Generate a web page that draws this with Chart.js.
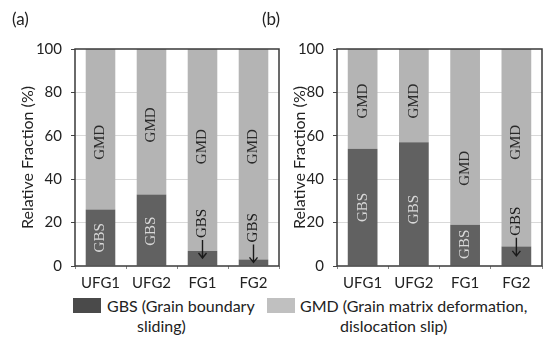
<!DOCTYPE html>
<html>
<head>
<meta charset="utf-8">
<script src="https://cdn.jsdelivr.net/npm/chart.js@4.4.0/dist/chart.umd.min.js"></script>
<style>
  body { margin: 0; background: #fff; width: 550px; height: 338px; position: relative; overflow: hidden; font-family: Lato, "Open Sans", sans-serif; color: #222; }
  .panel { position: absolute; top: 0; height: 295px; }
  #wrapA { left: 0; width: 290px; }
  #wrapB { left: 280px; width: 270px; }
  .tag { position: absolute; top: 8px; font-size: 17px; }
  .sw { position: absolute; top: 298px; width: 28px; height: 15px; }
  .lt { position: absolute; font-size: 16px; line-height: 20px; white-space: nowrap; }
</style>
</head>
<body>
<div class="panel" id="wrapA"><canvas id="chartA"></canvas></div>
<div class="panel" id="wrapB"><canvas id="chartB"></canvas></div>
<div class="tag" style="left:12px">(a)</div>
<div class="tag" style="left:262px">(b)</div>

<div class="sw" style="left:73px; background:#4a4a4a"></div>
<div class="lt" style="left:107px; top:296px">GBS (Grain boundary</div>
<div class="lt" style="left:137px; top:316px">sliding)</div>
<div class="sw" style="left:267px; background:#c0c0c0"></div>
<div class="lt" style="left:300px; top:296px">GMD (Grain matrix deformation,</div>
<div class="lt" style="left:340px; top:316px">dislocation slip)</div>

<script>
const categories = ['UFG1', 'UFG2', 'FG1', 'FG2'];
// (a)
const gbsA = [26, 33, 7, 3];
const gmdA = [74, 67, 93, 97];
// (b)
const gbsB = [54, 57, 19, 9];
const gmdB = [46, 43, 81, 91];
const yTicks = [0, 20, 40, 60, 80, 100];

// where the rotated words sit (in % units), and which GBS labels use an arrow
const gmdTextA = [57, 65, 55, 55];
const gbsTextA = [13, 16, 15, 13];
const arrowA = [false, false, true, true];
const gmdTextB = [76, 76, 45, 57];
const gbsTextB = [27, 26, 10, 16];
const arrowB = [false, false, false, true];

const sansFont = 'Lato, "Open Sans", sans-serif';
const serifFont = '"Liberation Serif", "DejaVu Serif", serif';

const barLabels = {
  id: 'barLabels',
  afterDatasetsDraw(chart, args, opts) {
    const ctx = chart.ctx;
    const xs = chart.scales.x, ys = chart.scales.y;
    ctx.save();
    ctx.font = '15px ' + serifFont;
    ctx.textBaseline = 'middle';
    categories.forEach((c, i) => {
      const x = xs.getPixelForValue(i);
      const draw = (txt, v, col, arrow) => {
        ctx.save();
        ctx.translate(x, ys.getPixelForValue(v));
        ctx.rotate(-Math.PI / 2);
        ctx.fillStyle = col;
        if (!arrow) {
          ctx.textAlign = 'center';
          ctx.fillText(txt, 0, 0);
        } else {
          // arrow pointing down at the thin GBS slice, then the word
          const w = ctx.measureText(txt).width;
          const len = 18;
          const start = -(len + 2 + w) / 2;
          ctx.strokeStyle = col;
          ctx.lineWidth = 1.4;
          ctx.beginPath();
          ctx.moveTo(start + len, 0);
          ctx.lineTo(start, 0);
          ctx.moveTo(start + 5, -4);
          ctx.lineTo(start, 0);
          ctx.lineTo(start + 5, 4);
          ctx.stroke();
          ctx.textAlign = 'left';
          ctx.fillText(txt, start + len + 2, 0);
        }
        ctx.restore();
      };
      draw('GMD', opts.gmdAt[i], '#2a2a2a', false);
      if (opts.arrow[i]) draw('GBS', opts.gbsAt[i], '#1a1a1a', true);
      else draw('GBS', opts.gbsAt[i], '#d8d8d8', false);
    });
    ctx.restore();
  }
};

const frame = {
  id: 'frame',
  afterDraw(chart) {
    const a = chart.chartArea, ctx = chart.ctx;
    ctx.save();
    ctx.strokeStyle = '#3a3a3a';
    ctx.lineWidth = 1.5;
    ctx.strokeRect(a.left, a.top, a.right - a.left, a.bottom - a.top);
    ctx.restore();
  }
};

function makeChart(id, gbs, gmd, padRight, yWidth, titlePad, gmdAt, gbsAt, arrow) {
  return new Chart(document.getElementById(id), {
    type: 'bar',
    data: {
      labels: categories,
      datasets: [
        { label: 'GBS', data: gbs, backgroundColor: '#616161', barPercentage: 0.58, categoryPercentage: 1 },
        { label: 'GMD', data: gmd, backgroundColor: '#b4b4b4', barPercentage: 0.58, categoryPercentage: 1 }
      ]
    },
    options: {
      responsive: true,
      maintainAspectRatio: false,
      animation: false,
      layout: { padding: { top: 49, right: padRight, left: 0, bottom: 0 } },
      plugins: {
        legend: { display: false },
        tooltip: { enabled: false },
        barLabels: { gmdAt: gmdAt, gbsAt: gbsAt, arrow: arrow }
      },
      scales: {
        x: {
          stacked: true,
          grid: { display: true, drawOnChartArea: false, offset: true, tickLength: 3, tickColor: '#888' },
          border: { display: false },
          ticks: { color: '#222', font: { family: sansFont, size: 15 }, padding: 5 },
          afterFit: s => { s.height = 29; }
        },
        y: {
          stacked: true,
          min: 0, max: 100,
          afterBuildTicks: s => { s.ticks = yTicks.map(v => ({ value: v })); },
          grid: {
            color: c => (c.tick.value === 0 || c.tick.value === 100) ? 'rgba(0,0,0,0)' : '#d9d9d9',
            tickColor: '#444', tickLength: 4, lineWidth: 1
          },
          border: { display: false },
          ticks: { color: '#222', font: { family: sansFont, size: 15 }, padding: 9 },
          title: {
            display: true, text: 'Relative Fraction (%)', color: '#222',
            font: { family: sansFont, size: 16 }, padding: { top: titlePad, bottom: 0 }
          },
          afterFit: s => { s.width = yWidth; }
        }
      }
    },
    plugins: [barLabels, frame]
  });
}

makeChart('chartA', gbsA, gmdA, 11, 75, 18, gmdTextA, gbsTextA, arrowA);
makeChart('chartB', gbsB, gmdB, 8, 57, 10, gmdTextB, gbsTextB, arrowB);
</script>
</body>
</html>
